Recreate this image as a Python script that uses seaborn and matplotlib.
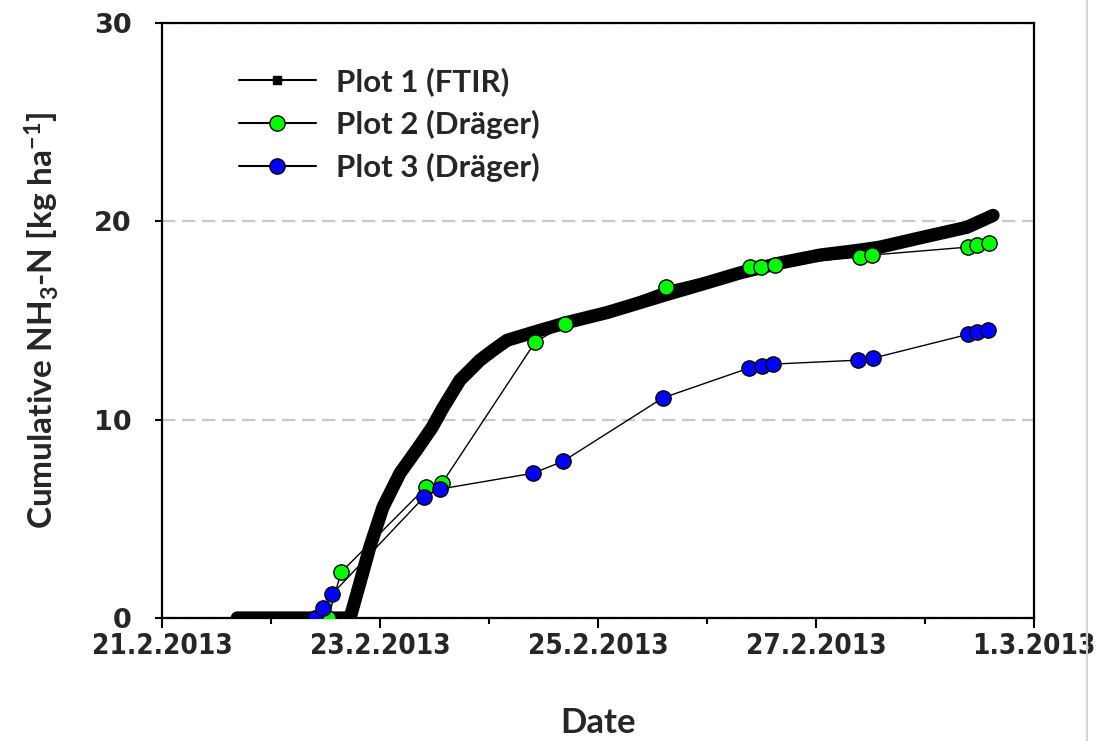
import numpy as np
import pandas as pd
import matplotlib
matplotlib.use("Agg")
import matplotlib.pyplot as plt
from matplotlib.lines import Line2D
import seaborn as sns

# ---------------- data (days after 21.2.2013 00:00) ----------------
START = pd.Timestamp("2013-02-21")

ftir_day = [0.69, 1.725, 1.817, 1.908, 2.028, 2.183, 2.339, 2.477, 2.578, 2.734,
            2.826, 2.917, 3.037, 3.165, 3.284, 3.404, 3.716, 4.083, 4.385, 4.624,
            4.936, 5.303, 5.670, 6.037, 6.404, 6.587, 6.982, 7.385, 7.505, 7.624]
ftir_val = [0.0, 0.0, 1.8, 3.6, 5.6, 7.3, 8.5, 9.6, 10.6, 12.0,
            12.5, 13.0, 13.5, 14.0, 14.2, 14.4, 14.9, 15.4, 15.9, 16.3,
            16.8, 17.4, 17.9, 18.3, 18.55, 18.7, 19.2, 19.7, 20.0, 20.3]

plot2_day = [1.523, 1.642, 2.422, 2.569, 3.422, 3.697, 4.624, 5.394, 5.495, 5.624,
             6.404, 6.514, 7.394, 7.477, 7.587]
plot2_val = [0.0, 2.3, 6.6, 6.8, 13.9, 14.8, 16.7, 17.7, 17.7, 17.8,
             18.2, 18.3, 18.7, 18.8, 18.9]

plot3_day = [1.404, 1.477, 1.560, 2.404, 2.550, 3.404, 3.679, 4.596, 5.385, 5.505,
             5.606, 6.385, 6.523, 7.394, 7.477, 7.578]
plot3_val = [0.0, 0.5, 1.2, 6.1, 6.5, 7.3, 7.9, 11.1, 12.6, 12.7,
             12.8, 13.0, 13.1, 14.3, 14.4, 14.5]

series_labels = ["Plot 1 (FTIR)", "Plot 2 (Dräger)", "Plot 3 (Dräger)"]
xtick_dates = ["2013-02-21", "2013-02-23", "2013-02-25", "2013-02-27", "2013-03-01"]
xtick_labels = ["21.2.2013", "23.2.2013", "25.2.2013", "27.2.2013", "1.3.2013"]
xminor_dates = ["2013-02-22", "2013-02-24", "2013-02-26", "2013-02-28"]
yticks = [0, 10, 20, 30]


def to_df(days, vals):
    return pd.DataFrame({"date": START + pd.to_timedelta(days, unit="D"),
                         "value": vals})


df1 = to_df(ftir_day, ftir_val)
df2 = to_df(plot2_day, plot2_val)
df3 = to_df(plot3_day, plot3_val)

# ---------------- style ----------------
sns.set_style("white")
plt.rcParams["font.family"] = ["Lato", "DejaVu Sans"]
plt.rcParams["mathtext.default"] = "regular"

fig = plt.figure(figsize=(10.97, 7.41), dpi=100)
ax = fig.add_axes([0.1477, 0.166, 0.7949, 0.803])

# FTIR: dense thick black trace
sns.lineplot(data=df1, x="date", y="value", ax=ax, color="black",
             linewidth=9.5, solid_capstyle="round", solid_joinstyle="round",
             zorder=3)
# Dräger plots
sns.lineplot(data=df2, x="date", y="value", ax=ax, color="black", linewidth=1.0,
             marker="o", markersize=11, markerfacecolor="#00ff00",
             markeredgecolor="black", markeredgewidth=1.0, zorder=4)
sns.lineplot(data=df3, x="date", y="value", ax=ax, color="black", linewidth=1.0,
             marker="o", markersize=11, markerfacecolor="#0000ff",
             markeredgecolor="black", markeredgewidth=1.0, zorder=5)

# axes limits / ticks
ax.set_xlim(pd.Timestamp(xtick_dates[0]), pd.Timestamp(xtick_dates[-1]))
ax.set_ylim(yticks[0], yticks[-1])
ax.set_xticks(pd.to_datetime(xtick_dates))
ax.set_xticklabels(xtick_labels)
ax.set_xticks(pd.to_datetime(xminor_dates), minor=True)
ax.set_yticks(yticks)
ax.set_yticklabels([str(v) for v in yticks])

ax.tick_params(axis="x", which="major", direction="out", length=7.2, width=1.5,
               color="black", pad=3)
ax.tick_params(axis="x", which="minor", direction="out", length=4.3, width=1.5,
               color="black")
ax.tick_params(axis="y", which="major", direction="out", length=5, width=1.5,
               color="black", pad=17)
ax.tick_params(bottom=True, left=True, which="both")

for lab in ax.get_xticklabels():
    lab.set_family(["DejaVu Sans"])
    lab.set_fontstretch("condensed")
    lab.set_fontweight("bold")
    lab.set_fontsize(20)
for lab in ax.get_yticklabels():
    lab.set_family(["DejaVu Sans"])
    lab.set_fontweight("bold")
    lab.set_fontsize(19.5)

for sp in ax.spines.values():
    sp.set_visible(True)
    sp.set_color("black")
    sp.set_linewidth(1.6)

ax.yaxis.grid(True, color="#c8c8c8", linestyle=(0, (6, 3)), linewidth=1.6)
ax.xaxis.grid(False)
ax.set_axisbelow(True)

ax.set_xlabel("Date", fontsize=25, fontweight="bold", labelpad=34)
ax.set_ylabel("Cumulative NH$_3$-N [kg ha$^{-1}$]", fontsize=24,
              fontweight="bold", labelpad=24)

handles = [
    Line2D([], [], color="black", lw=1.5, marker="s", markersize=6,
           markerfacecolor="black", markeredgecolor="black"),
    Line2D([], [], color="black", lw=1.5, marker="o", markersize=11,
           markerfacecolor="#00ff00", markeredgecolor="black"),
    Line2D([], [], color="black", lw=1.5, marker="o", markersize=11,
           markerfacecolor="#0000ff", markeredgecolor="black"),
]
ax.legend(handles, series_labels, loc="upper left", bbox_to_anchor=(0.074, 0.947),
          frameon=False, prop=dict(family="Lato", weight="bold", size=22.5),
          handlelength=2.45, handletextpad=0.64, labelspacing=0.44,
          borderaxespad=0.0)

fig.add_artist(Line2D([0.991, 0.991], [0, 1], color="#d4d4d4", lw=1.5,
                      transform=fig.transFigure))

fig.savefig("out.png", dpi=100)
